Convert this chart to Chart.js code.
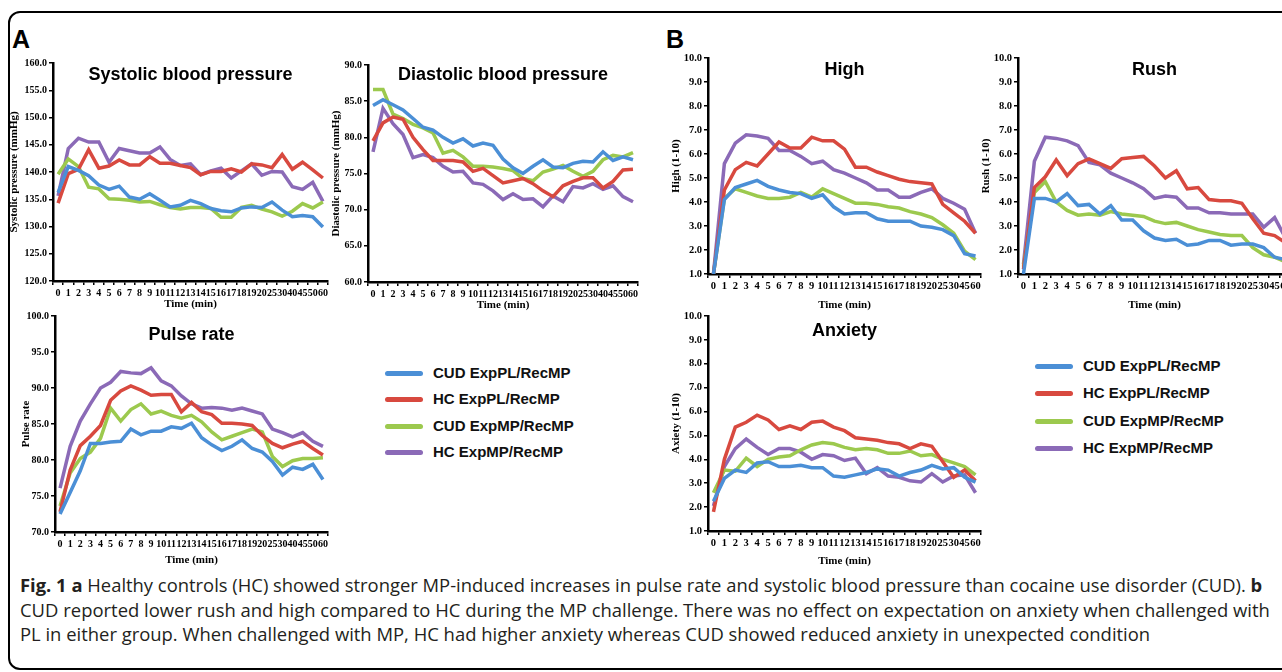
<!DOCTYPE html>
<html>
<head>
<meta charset="utf-8">
<script src="https://cdn.jsdelivr.net/npm/chart.js@4.4.0/dist/chart.umd.min.js"></script>
<style>
  html, body { margin: 0; padding: 0; background: #fff; }
  body { width: 1282px; height: 672px; position: relative; overflow: hidden; }
  .frame { position: absolute; left: 8px; top: 11px; width: 1320px; height: 655px; border: 2px solid #000; border-radius: 12px; }
  .panel { position: absolute; font: bold 25px "Liberation Sans", Arial, sans-serif; color: #000; }
  .legend { position: absolute; font: bold 15px "Liberation Sans", Arial, sans-serif; color: #111; }
  .legend .row { position: absolute; left: 0; height: 20px; white-space: nowrap; }
  .legend .swatch { position: absolute; left: 0; top: 8px; width: 38px; height: 5px; border-radius: 3px; }
  .legend .txt { position: absolute; left: 48px; top: 0; line-height: 20px; }
  .caption { position: absolute; left: 20px; height: 20px; line-height: 20px; font-family: "Open Sans", sans-serif;
             font-size: 17.5px; color: #231f20; white-space: nowrap; transform-origin: 0 50%; }
  .caption b { font-weight: 700; }
</style>
</head>
<body>
<div class="frame"></div>
<div class="panel" style="left:12px;top:25px;">A</div>
<div class="panel" style="left:666px;top:25px;">B</div>
<div class="legend" id="legendA" style="left:385px;top:0;"></div>
<div class="legend" id="legendB" style="left:1035px;top:0;"></div>
<div class="caption" id="cap1" style="top:575px;"><b>Fig. 1</b> <b>a</b> Healthy controls (HC) showed stronger MP-induced increases in pulse rate and systolic blood pressure than cocaine use disorder (CUD). <b>b</b></div>
<div class="caption" id="cap2" style="top:600px;">CUD reported lower rush and high compared to HC during the MP challenge. There was no effect on expectation on anxiety when challenged with</div>
<div class="caption" id="cap3" style="top:624px;">PL in either group. When challenged with MP, HC had higher anxiety whereas CUD showed reduced anxiety in unexpected condition</div>
<script>
/* time points (min) */
const TIME_A = ['0','1','2','3','4','5','6','7','8','9','10','11','12','13','14','15','16','17','18','19','20','25','30','40','45','50','60'];
const TIME_B = ['0','1','2','3','4','5','6','7','8','9','10','11','12','13','14','15','16','17','18','19','20','25','30','45','60'];

const GROUPS = ['CUD ExpPL/RecMP', 'HC ExpPL/RecMP', 'CUD ExpMP/RecMP', 'HC ExpMP/RecMP'];
const COLORS = ['#4b8fd6', '#d8493f', '#9cc94e', '#8b6ab7'];

/* A - systolic blood pressure */
const sysCudPl = [136.2,141.0,140.3,139.3,137.6,136.8,137.4,135.4,135.0,136.0,134.8,133.6,133.9,134.8,134.2,133.3,132.9,132.7,133.4,133.6,133.5,134.5,133.0,131.8,132.0,131.8,129.9];
const sysHcPl  = [134.3,139.7,140.5,144.1,140.7,141.1,142.2,141.3,141.3,142.8,141.6,141.6,141.2,140.8,139.5,140.1,140.1,140.6,140.0,141.5,141.3,140.8,143.2,140.5,141.8,140.4,138.9];
const sysCudMp = [139.6,142.4,141.0,137.2,136.9,135.1,135.0,134.8,134.5,134.6,134.0,133.5,133.2,133.5,133.5,133.3,131.7,131.7,133.5,133.9,133.2,132.7,131.9,132.8,134.2,133.4,134.5];
const sysHcMp  = [135.6,144.3,146.2,145.5,145.5,141.8,144.3,143.9,143.5,143.5,144.6,142.3,141.2,141.5,139.5,140.2,140.7,138.9,140.2,141.5,139.4,140.1,140.0,137.3,136.8,138.1,134.6];

/* A - diastolic blood pressure */
const diaCudPl = [84.4,85.2,84.5,83.8,82.6,81.4,81.0,80.0,79.2,79.8,78.8,79.2,78.9,77.0,75.8,75.0,76.0,76.9,75.9,75.8,76.4,76.7,76.6,78.0,76.8,77.3,76.9];
const diaHcPl  = [79.5,82.0,82.8,82.5,80.0,78.3,76.8,76.8,76.8,76.6,75.3,75.7,74.7,73.7,74.0,74.3,73.6,72.6,71.8,73.3,73.9,74.4,74.4,73.0,73.9,75.5,75.6];
const diaCudMp = [86.6,86.6,83.2,82.6,81.8,81.3,80.6,77.8,78.2,77.3,76.0,76.0,75.9,75.7,75.4,74.3,74.0,75.2,75.6,76.1,75.3,74.6,75.3,76.9,77.5,77.3,77.9];
const diaHcMp  = [78.0,84.0,81.9,80.4,77.2,77.6,77.2,76.0,75.2,75.3,73.7,73.5,72.6,71.4,72.2,71.4,71.5,70.4,71.9,71.1,73.2,73.0,73.6,72.8,73.3,71.8,71.1];

/* A - pulse rate */
const pulCudPl = [72.5,75.5,78.5,82.3,82.3,82.5,82.6,84.3,83.5,84.0,84.0,84.6,84.4,85.1,83.1,82.1,81.3,81.9,82.8,81.6,81.1,79.8,77.9,79.0,78.7,79.4,77.3];
const pulHcPl  = [72.8,78.6,82.0,83.3,84.8,88.3,89.6,90.3,89.7,89.0,89.1,89.1,86.7,88.0,86.7,86.3,85.1,85.1,85.0,84.8,83.4,82.3,81.7,82.2,82.6,81.6,80.7];
const pulCudMp = [73.6,78.2,80.2,81.1,83.0,87.2,85.4,87.0,87.8,86.4,86.8,86.2,85.8,86.2,85.3,83.9,82.8,83.3,83.8,84.3,83.9,80.5,79.1,79.9,80.2,80.2,80.3];
const pulHcMp  = [76.1,81.9,85.4,87.8,90.0,90.8,92.3,92.1,92.0,92.8,91.0,90.3,88.9,87.8,87.2,87.3,87.2,86.9,87.2,86.8,86.4,84.3,83.8,83.2,83.8,82.6,81.9];

/* B - high */
const highCudPl = [1.0,4.1,4.6,4.75,4.9,4.65,4.5,4.4,4.35,4.15,4.3,3.8,3.5,3.55,3.55,3.3,3.2,3.2,3.2,3.0,2.95,2.85,2.6,1.85,1.75];
const highHcPl  = [1.0,4.5,5.35,5.65,5.5,6.0,6.5,6.25,6.25,6.7,6.55,6.55,6.2,5.45,5.45,5.25,5.1,4.95,4.85,4.8,4.75,3.9,3.55,3.2,2.7];
const highCudMp = [1.0,4.15,4.55,4.4,4.25,4.15,4.15,4.2,4.4,4.2,4.55,4.35,4.15,3.95,3.95,3.9,3.8,3.75,3.6,3.5,3.35,3.05,2.7,1.95,1.6];
const highHcMp  = [1.0,5.6,6.45,6.8,6.75,6.65,6.15,6.15,5.9,5.6,5.7,5.35,5.2,5.0,4.8,4.5,4.5,4.2,4.2,4.4,4.55,4.15,3.95,3.7,2.7];

/* B - rush */
const rushCudPl = [1.0,4.15,4.15,4.0,4.35,3.85,3.9,3.5,3.85,3.25,3.25,2.8,2.5,2.4,2.45,2.2,2.25,2.4,2.4,2.2,2.25,2.25,2.1,1.7,1.6];
const rushHcPl  = [1.2,4.6,5.05,5.75,5.1,5.6,5.8,5.6,5.4,5.8,5.85,5.9,5.5,5.0,5.3,4.55,4.6,4.1,4.05,4.05,3.95,3.3,2.7,2.6,2.3];
const rushCudMp = [1.3,4.4,4.85,4.0,3.65,3.45,3.5,3.45,3.6,3.5,3.45,3.4,3.2,3.1,3.15,3.0,2.85,2.75,2.65,2.6,2.6,2.1,1.8,1.7,1.5];
const rushHcMp  = [1.4,5.7,6.7,6.65,6.55,6.35,5.65,5.55,5.2,5.0,4.8,4.55,4.15,4.25,4.2,3.75,3.75,3.55,3.55,3.5,3.5,3.5,2.95,3.35,2.5];

/* B - anxiety */
const anxCudPl = [2.25,3.2,3.55,3.45,3.85,3.9,3.7,3.7,3.75,3.65,3.65,3.3,3.25,3.35,3.45,3.6,3.55,3.3,3.45,3.55,3.75,3.6,3.65,3.25,3.05];
const anxHcPl  = [1.8,4.0,5.35,5.55,5.85,5.65,5.25,5.4,5.25,5.55,5.6,5.35,5.2,4.9,4.85,4.8,4.7,4.65,4.45,4.65,4.55,3.9,3.25,3.55,3.1];
const anxCudMp = [2.6,3.55,3.5,4.05,3.7,4.0,4.1,4.15,4.4,4.6,4.7,4.65,4.5,4.4,4.45,4.4,4.25,4.25,4.35,4.15,4.2,4.0,3.85,3.7,3.35];
const anxHcMp  = [2.05,3.7,4.45,4.85,4.5,4.2,4.45,4.45,4.3,4.0,4.2,4.15,3.95,4.05,3.4,3.65,3.3,3.25,3.1,3.05,3.4,3.05,3.3,3.35,2.6];

const SERIF = '"Liberation Serif", "Times New Roman", serif';
const SANS = '"Liberation Sans", Arial, sans-serif';

Chart.defaults.animation = false;

/* title drawn inside the plot, like the original figure */
const innerTitle = {
  id: 'innerTitle',
  afterDraw(chart, args, opts) {
    if (!opts.text) return;
    const { ctx, chartArea } = chart;
    ctx.save();
    ctx.font = 'bold 18px ' + SANS;
    ctx.fillStyle = '#000';
    ctx.textAlign = 'center';
    ctx.textBaseline = 'middle';
    ctx.fillText(opts.text, (chartArea.left + chartArea.right) / 2, chartArea.top + opts.dy);
    ctx.restore();
  }
};

function makeChart(c) {
  const el = document.createElement('canvas');
  el.width = c.box[2];
  el.height = c.box[3];
  el.style.cssText = `position:absolute;left:${c.box[0]}px;top:${c.box[1]}px;width:${c.box[2]}px;height:${c.box[3]}px;`;
  document.body.appendChild(el);

  const tickFont = { family: SERIF, weight: 'bold', size: c.tick };
  const titleFont = { family: SERIF, weight: 'bold', size: 11 };

  new Chart(el, {
    type: 'line',
    data: {
      labels: c.labels,
      datasets: c.series.map((d, i) => ({
        label: GROUPS[i],
        data: d,
        borderColor: COLORS[i],
        backgroundColor: COLORS[i],
        borderWidth: 3.5,
        pointRadius: 0,
        tension: 0,
        fill: false,
      }))
    },
    options: {
      responsive: false,
      devicePixelRatio: 1,
      layout: { padding: { top: c.pad[0], right: c.pad[1], bottom: 0, left: 0 } },
      plugins: {
        legend: { display: false },
        tooltip: { enabled: false },
        innerTitle: { text: c.title, dy: c.dy }
      },
      scales: {
        x: {
          offset: true,
          afterFit: s => { s.height = c.xH; },
          grid: { display: true, drawOnChartArea: false, offset: true, color: '#000', lineWidth: 1.5, tickLength: 4 },
          border: { display: true, color: '#000', width: 2.5 },
          ticks: { autoSkip: false, maxRotation: 0, minRotation: 0, padding: 2, color: '#000', font: tickFont },
          title: { display: true, text: 'Time (min)', color: '#000', font: titleFont, padding: { top: 0, bottom: c.xTitlePad } }
        },
        y: {
          min: c.min,
          max: c.max,
          afterFit: s => { s.width = c.yW; },
          grid: { display: true, drawOnChartArea: false, color: '#000', lineWidth: 1.5, tickLength: 4 },
          border: { display: true, color: '#000', width: 2.5 },
          ticks: { stepSize: c.step, padding: 2, color: '#000', font: tickFont, callback: v => v.toFixed(1) },
          title: { display: true, text: c.yTitle, color: '#000', font: titleFont, padding: { top: c.yTitlePad, bottom: 0 } }
        }
      }
    },
    plugins: [innerTitle]
  });
}

makeChart({ box: [0, 45, 340, 270], pad: [18, 12], yW: 53, xH: 34, xTitlePad: 4, yTitlePad: 8, tick: 10,
  labels: TIME_A, series: [sysCudPl, sysHcPl, sysCudMp, sysHcMp], min: 120, max: 160, step: 5,
  yTitle: 'Systolic pressure (mmHg)', title: 'Systolic blood pressure', dy: 12 });

makeChart({ box: [330, 45, 320, 271], pad: [20, 12], yW: 38, xH: 34, xTitlePad: 4, yTitlePad: 0, tick: 10,
  labels: TIME_A, series: [diaCudPl, diaHcPl, diaCudMp, diaHcMp], min: 60, max: 90, step: 5,
  yTitle: 'Diastolic pressure (mmHg)', title: 'Diastolic blood pressure', dy: 10 });

makeChart({ box: [0, 298, 340, 272], pad: [18, 12], yW: 55, xH: 38, xTitlePad: 3, yTitlePad: 20, tick: 10,
  labels: TIME_A, series: [pulCudPl, pulHcPl, pulCudMp, pulHcMp], min: 70, max: 100, step: 5,
  yTitle: 'Pulse rate', title: 'Pulse rate', dy: 19 });

makeChart({ box: [670, 40, 321, 276], pad: [18, 10], yW: 38, xH: 42, xTitlePad: 4, yTitlePad: 0, tick: 10.5,
  labels: TIME_B, series: [highCudPl, highHcPl, highCudMp, highHcMp], min: 1, max: 10, step: 1,
  yTitle: 'High (1-10)', title: 'High', dy: 12 });

makeChart({ box: [980, 40, 321, 276], pad: [18, 10], yW: 38, xH: 42, xTitlePad: 4, yTitlePad: 0, tick: 10.5,
  labels: TIME_B, series: [rushCudPl, rushHcPl, rushCudMp, rushHcMp], min: 1, max: 10, step: 1,
  yTitle: 'Rush (1-10)', title: 'Rush', dy: 12 });

makeChart({ box: [670, 298, 321, 273], pad: [18, 10], yW: 38, xH: 40, xTitlePad: 3, yTitlePad: 0, tick: 10.5,
  labels: TIME_B, series: [anxCudPl, anxHcPl, anxCudMp, anxHcMp], min: 1, max: 10, step: 1,
  yTitle: 'Axiety (1-10)', title: 'Anxiety', dy: 15 });

/* legends */
function makeLegend(id, rowsY) {
  const box = document.getElementById(id);
  GROUPS.forEach((name, i) => {
    const row = document.createElement('div');
    row.className = 'row';
    row.style.top = (rowsY[i] - 10) + 'px';
    row.innerHTML = `<div class="swatch" style="background:${COLORS[i]}"></div><div class="txt">${name}</div>`;
    box.appendChild(row);
  });
}
makeLegend('legendA', [373, 399, 426, 452]);
makeLegend('legendB', [366, 393, 421, 448]);

/* caption lines stretched to the original widths */
function fitLine(id, w) {
  const el = document.getElementById(id);
  const s = w / el.scrollWidth;
  el.style.transform = `scaleX(${s})`;
  return s;
}
const s1 = fitLine('cap1', 1242);
const s2 = fitLine('cap2', 1250);
document.getElementById('cap3').style.transform = `scaleX(${(s1 + s2) / 2})`;
</script>
</body>
</html>
